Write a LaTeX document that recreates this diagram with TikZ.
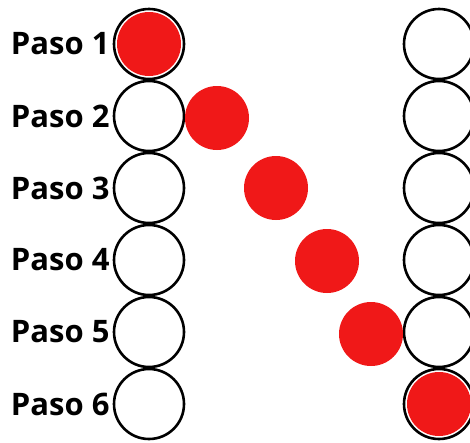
\documentclass[tikz,border=0pt]{standalone}
\usepackage{fontspec}
\setmainfont{Open Sans}
\usetikzlibrary{positioning}
\definecolor{pasored}{RGB}{240,24,24}

\begin{document}
\begin{tikzpicture}[
    x=1pt, y=-1pt,
    slot/.style={draw, circle, line width=2.6pt, minimum size=70pt, inner sep=0pt, fill=white},
    ball/.style={circle, fill=pasored, minimum size=64pt, inner sep=0pt},
    paso/.style={font=\fontsize{31}{33}\selectfont\bfseries, inner sep=0pt},
]
\useasboundingbox (0,0) rectangle (470,442);

% columns of slots
\foreach \i/\y in {1/44, 2/116, 3/188, 4/260, 5/332, 6/404} {
    \node[slot] (L\i) at (149,\y) {};
    \node[slot] (R\i) at (439,\y) {};
    \node[paso, left=3pt of L\i] (p\i) {Paso \i};
}

% the ball, step by step
\node[ball] (b1) at (L1) {};
\node[ball] (b2) at (217,118) {};
\node[ball] (b3) at (276,188) {};
\node[ball] (b4) at (327,261) {};
\node[ball] (b5) at (371,334) {};
\node[ball] (b6) at (R6) {};
\end{tikzpicture}
\end{document}
